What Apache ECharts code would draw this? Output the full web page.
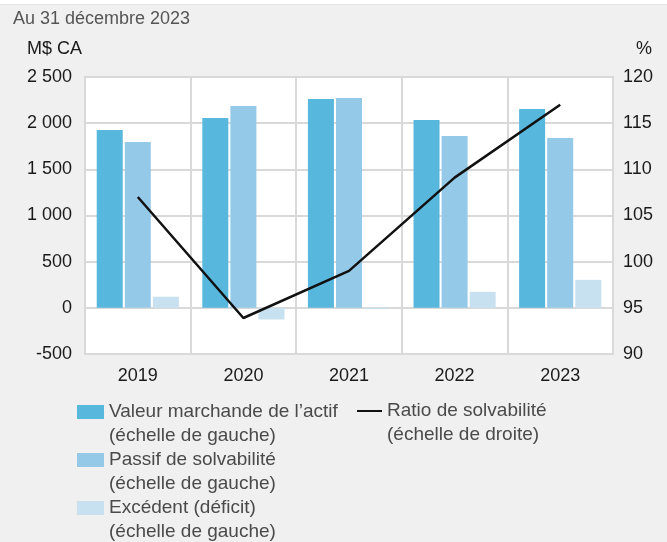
<!DOCTYPE html>
<html>
<head>
<meta charset="utf-8">
<script src="https://cdn.jsdelivr.net/npm/echarts@6/dist/echarts.min.js"></script>
<style>
  body { margin: 0; background: #fff; }
  #chart {
    width: 667px;
    height: 542px;
    background: linear-gradient(#fff 0, #fff 4px, #e4e4e4 4px, #e4e4e4 5px, #f0f0f0 5px);
  }
</style>
</head>
<body>
<div id="chart"></div>
<script>
  // données
  const years = ['2019', '2020', '2021', '2022', '2023'];
  const assets = [1925, 2055, 2262, 2035, 2154];
  const liabilities = [1797, 2186, 2273, 1861, 1840];
  const surplus = [120, -126, -12, 173, 303];
  const ratio = [107.0, 93.9, 99.0, 109.1, 117.0];

  const font = "'Liberation Sans', Arial, sans-serif";
  const gridColor = '#d9d9d9';

  // legende : une ligne vide au-dessus pour aligner l'icone sur la premiere ligne
  function legendItem(name, top, left, isLine) {
    return {
      data: [name],
      top: top,
      left: left,
      padding: 0,
      itemWidth: isLine ? 25 : 27,
      itemHeight: isLine ? 2 : 14,
      icon: 'rect',
      selectedMode: false,
      textStyle: {
        fontFamily: font,
        fontSize: 19,
        color: '#4a4a4a',
        lineHeight: 24
      },
      formatter: function (n) {
        return ' \n' + n + (isLine ? '\n(échelle de droite)' : '\n(échelle de gauche)');
      }
    };
  }

  const option = {
    animation: false,
    textStyle: { fontFamily: font },
    title: [
      { text: 'Au 31 décembre 2023', left: 13, top: 10, padding: 0,
        textStyle: { fontFamily: font, fontSize: 18, fontWeight: 'normal', color: '#555' } },
      { text: 'M$ CA', left: 27, top: 40, padding: 0,
        textStyle: { fontFamily: font, fontSize: 18, fontWeight: 'normal', color: '#1a1a1a' } },
      { text: '%', right: 15, top: 40, padding: 0,
        textStyle: { fontFamily: font, fontSize: 18, fontWeight: 'normal', color: '#1a1a1a' } }
    ],
    legend: [
      legendItem('Valeur marchande de l’actif', 376, 77, false),
      legendItem('Passif de solvabilité', 424, 77, false),
      legendItem('Excédent (déficit)', 472, 77, false),
      legendItem('Ratio de solvabilité', 375, 357, true)
    ],
    grid: {
      left: 85, right: 54, top: 77, bottom: 188,
      show: true,
      backgroundColor: '#fff',
      borderColor: '#d4d4d4',
      borderWidth: 2
    },
    xAxis: {
      type: 'category',
      data: years,
      boundaryGap: true,
      axisLine: { show: false },
      axisTick: { show: false },
      axisLabel: { fontSize: 18, color: '#1a1a1a', margin: 13 },
      splitLine: { show: true, lineStyle: { color: gridColor, width: 2 } }
    },
    yAxis: [
      {
        type: 'value',
        min: -500, max: 2500, interval: 500,
        axisLine: { show: false },
        axisTick: { show: false },
        axisLabel: {
          fontSize: 18, color: '#1a1a1a', margin: 13,
          formatter: function (v) {
            return String(v).replace(/\B(?=(\d{3})+(?!\d))/g, ' ');
          }
        },
        splitLine: { lineStyle: { color: gridColor, width: 2 } }
      },
      {
        type: 'value',
        min: 90, max: 120, interval: 5,
        axisLine: { show: false },
        axisTick: { show: false },
        axisLabel: { fontSize: 18, color: '#1a1a1a', margin: 10 },
        splitLine: { show: false }
      }
    ],
    series: [
      {
        name: 'Valeur marchande de l’actif',
        type: 'bar',
        data: assets,
        barWidth: 26,
        barGap: '8%',
        itemStyle: { color: '#57b7dd' }
      },
      {
        name: 'Passif de solvabilité',
        type: 'bar',
        data: liabilities,
        barWidth: 26,
        barGap: '8%',
        itemStyle: { color: '#94c9e8' }
      },
      {
        name: 'Excédent (déficit)',
        type: 'bar',
        data: surplus,
        barWidth: 26,
        barGap: '8%',
        itemStyle: { color: '#c7e1f1' }
      },
      {
        name: 'Ratio de solvabilité',
        type: 'line',
        yAxisIndex: 1,
        data: ratio,
        symbol: 'none',
        z: 5,
        itemStyle: { color: '#111' },
        lineStyle: { color: '#111', width: 2.5 }
      }
    ]
  };

  const chartObj = echarts.init(document.getElementById('chart'));
  chartObj.setOption(option);
</script>
</body>
</html>
